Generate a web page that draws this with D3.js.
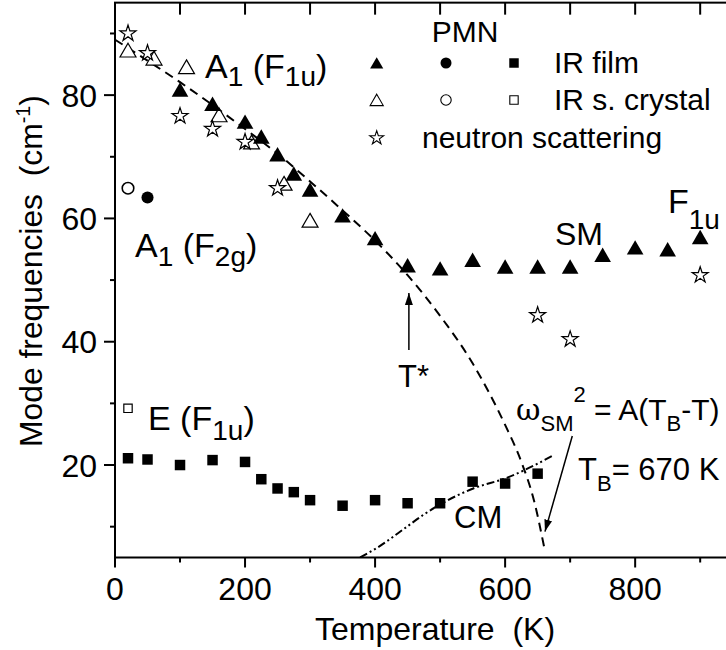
<!DOCTYPE html>
<html><head><meta charset="utf-8">
<script src="https://cdn.jsdelivr.net/npm/d3@7"></script>
<style>
html,body{margin:0;padding:0;background:#fff;}
svg text{font-family:"Liberation Sans",Arial,sans-serif;fill:#000;}
</style></head>
<body><svg id="c" width="726" height="650" font-family="Liberation Sans, Arial, sans-serif"></svg>
<script>
// ---------------- data ----------------
const filmTriT = [100,150,200,225,250,275,300,350,400,450,500,550,600,650,700,750,800,850,900];
const filmTriV = [80.9,78.6,75.7,73.3,70.4,67.3,64.7,60.5,56.8,52.4,51.9,53.3,52.2,52.2,52.2,54.1,55.3,55.0,57.0];
const crystalTriT = [20,60,110,160,210,260,300];
const crystalTriV = [87.3,86.0,84.6,76.8,72.4,65.7,59.7];
const neutronT = [20,50,100,150,200,250,650,700,900];
const neutronV = [90.0,86.8,76.6,74.5,72.4,64.9,44.3,40.4,50.8];
const filmCircT = [50];
const filmCircV = [63.4];
const crystalCircT = [20];
const crystalCircV = [64.9];
const filmSqT = [20,50,100,150,200,225,250,275,300,350,400,450,500,550,600,650];
const filmSqV = [21.1,20.9,20.0,20.8,20.5,17.7,16.2,15.6,14.3,13.4,14.3,13.8,13.8,17.3,17.0,18.6];
const crystalSqT = [20];
const crystalSqV = [29.2];
// soft-mode fit curve
const fitT = [0,50,100,150,200,250,300,350,400,450,500,550,600,625,645,660];
const fitV = [89,85.6,82.1,78.4,74.5,70.5,66.0,61.3,56.4,50.8,44.2,36.5,26.5,20.5,14,6.7];
// central mode guide line
const cmT = [377,402,449,474,500,551,602,673];
const cmV = [5,6.5,10,11.9,13.6,16.2,17.9,21.5];
// arrows [T1,V1,T2,V2]
const arrows = [[452,38.65,452,47.9],[703.3,24.7,661.3,9.2]];
const xMajor = [0,200,400,600,800];
const xMinor = [100,300,500,700,900];
const yMajor = [20,40,60,80];
const yMinor = [10,30,50,70,90];

// ---------------- chart ----------------
const svg = d3.select("#c");
const x = d3.scaleLinear().domain([0,1000]).range([115,765.2]);
const y = d3.scaleLinear().domain([5,95]).range([557.5,2.65]);
const X0 = x(0), X1 = x(1000), Y0 = y(5), Y1 = y(95);

svg.append("defs").append("marker").attr("id","ah")
  .attr("viewBox","0 0 12 8").attr("refX",12).attr("refY",4)
  .attr("markerWidth",12).attr("markerHeight",8).attr("markerUnits","userSpaceOnUse")
  .attr("orient","auto")
  .append("path").attr("d","M0,0 L12,4 L0,8 Z").attr("fill","#000");
svg.select("defs").append("clipPath").attr("id","clip")
  .append("rect").attr("x",X0).attr("y",Y1).attr("width",X1-X0).attr("height",Y0-Y1);

// axes frame
const ax = svg.append("g").attr("stroke","#000").attr("stroke-width",2).attr("fill","none");
ax.append("rect").attr("x",X0).attr("y",Y1).attr("width",X1-X0).attr("height",Y0-Y1);
xMajor.forEach(t=>ax.append("line").attr("x1",x(t)).attr("x2",x(t)).attr("y1",Y0).attr("y2",Y0+10));
xMinor.forEach(t=>ax.append("line").attr("x1",x(t)).attr("x2",x(t)).attr("y1",Y0).attr("y2",Y0+5));
xMajor.concat(xMinor).forEach(t=>{ if(t>0) ax.append("line").attr("x1",x(t)).attr("x2",x(t)).attr("y1",Y1).attr("y2",Y1+12);});
yMajor.forEach(v=>ax.append("line").attr("x1",X0-11).attr("x2",X0).attr("y1",y(v)).attr("y2",y(v)));
yMinor.forEach(v=>ax.append("line").attr("x1",X0-5).attr("x2",X0).attr("y1",y(v)).attr("y2",y(v)));

// tick labels
svg.append("g").selectAll("text").data(xMajor).join("text")
  .attr("x",d=>x(d)).attr("y",600).attr("text-anchor","middle").attr("font-size",32).text(d=>d);
svg.append("g").selectAll("text").data(yMajor).join("text")
  .attr("x",97).attr("y",d=>y(d)+11.5).attr("text-anchor","end").attr("font-size",32).text(d=>d);

// axis titles
svg.append("text").attr("x",435).attr("y",640)
  .attr("text-anchor","middle").attr("font-size",32).style("white-space","pre").text("Temperature  (K)");
const yt = svg.append("text").attr("transform","translate(42,271) rotate(-90)")
  .attr("text-anchor","middle").attr("font-size",32).style("white-space","pre");
yt.append("tspan").text("Mode frequencies  (cm");
yt.append("tspan").attr("font-size",20).attr("dy",-12).text("-1");
yt.append("tspan").attr("dy",12).text(")");
{
  const r = yt.node().getBoundingClientRect();
  const k = r.height > 0 ? 352 / r.height : 1;
  yt.attr("transform",`translate(42,271) rotate(-90) scale(${k},1)`);
}

// lines
const plot = svg.append("g").attr("clip-path","url(#clip)");
const line = d3.line().x(d=>x(d[0])).y(d=>y(d[1])).curve(d3.curveMonotoneX);
plot.append("path").attr("d",line(fitT.map((t,i)=>[t,fitV[i]])))
  .attr("fill","none").attr("stroke","#000").attr("stroke-width",2).attr("stroke-dasharray","9,6");
plot.append("path").attr("d",line(cmT.map((t,i)=>[t,cmV[i]])))
  .attr("fill","none").attr("stroke","#000").attr("stroke-width",2).attr("stroke-dasharray","8,3,2,3,2,3");
arrows.forEach(a=>svg.append("line").attr("x1",x(a[0])).attr("y1",y(a[1])).attr("x2",x(a[2])).attr("y2",y(a[3]))
  .attr("stroke","#000").attr("stroke-width",1.5).attr("marker-end","url(#ah)"));

// markers
const sym = (type,size)=>d3.symbol().type(type).size(size)();
function pts(T,V,type,size,filled,dy,sw){
  svg.append("g").selectAll("path").data(T.map((t,i)=>[t,V[i]])).join("path")
    .attr("transform",d=>`translate(${x(d[0])},${y(d[1])+(dy||0)})`)
    .attr("d",sym(type,size))
    .attr("fill",filled?"#000":"#fff").attr("stroke","#000").attr("stroke-width",filled?0:(sw||1.2));
}
pts(crystalTriT,crystalTriV,d3.symbolTriangle,110,false,2.3);
pts(neutronT,neutronV,d3.symbolStar,80,false,0);
pts(filmTriT,filmTriV,d3.symbolTriangle,120,true,2.4);
pts(crystalCircT,crystalCircV,d3.symbolCircle,105,false,0,1.6);
pts(filmCircT,filmCircV,d3.symbolCircle,115,true,0);
pts(filmSqT,filmSqV,d3.symbolSquare,110,true,0);
pts(crystalSqT,crystalSqV,d3.symbolSquare,70,false,0);

// legend
const lg = svg.append("g");
lg.append("text").attr("x",465).attr("y",42).attr("text-anchor","middle").attr("font-size",30).text("PMN");
const legRows = [
  {y:63, items:[[376.7,d3.symbolTriangle,75,true,1.8],[446,d3.symbolCircle,95,true,0],[514,d3.symbolSquare,90,true,0]], label:"IR film", lx:554},
  {y:100, items:[[376.7,d3.symbolTriangle,75,false,1.8],[446,d3.symbolCircle,85,false,0],[514,d3.symbolSquare,70,false,0]], label:"IR s. crystal", lx:554},
  {y:138, items:[[376.7,d3.symbolStar,60,false,0]], label:"neutron scattering", lx:422}
];
legRows.forEach(r=>{
  r.items.forEach(it=>lg.append("path").attr("transform",`translate(${it[0]},${r.y+it[4]})`)
    .attr("d",sym(it[1],it[2])).attr("fill",it[3]?"#000":"#fff").attr("stroke","#000").attr("stroke-width",it[3]?0:1.1));
  lg.append("text").attr("x",r.lx).attr("y",r.y+10).attr("font-size",30).text(r.label);
});

// annotations
function rich(xp,yp,parts,size){
  const t = svg.append("text").attr("x",xp).attr("y",yp).attr("font-size",size||30).style("white-space","pre");
  let cur = 0;
  parts.forEach(p=>{
    const shift = (p[1]||0);
    const ts = t.append("tspan").attr("dy",shift-cur).text(p[0]);
    if(p[2]) ts.attr("font-size",p[2]);
    if(p[3]) ts.attr("font-family",p[3]);
    cur = shift;
  });
  return t;
}
rich(205,78,[["A"],["1",8,28],[" (F"],["1u",8,28],[")"]],34);
rich(135,257,[["A"],["1",9,28],[" (F"],["2g",9,28],[")"]],34);
rich(148,430,[["E (F"],["1u",10,28],[")"]],34);
rich(668,213,[["F"],["1u",16,28]],34);
rich(555,245,[["SM"]],32);
rich(398,387,[["T*"]],31);
rich(516,420,[["ω",0,30,"'DejaVu Serif',serif"],["SM",11,22],["2",-18,22],[" = A(T"],["B",11,22],["-T)"]]);
rich(578,480,[["T"],["B",11,22],["= 670 K"]],31);
rich(454,528,[["CM"]],31);
</script></body></html>
